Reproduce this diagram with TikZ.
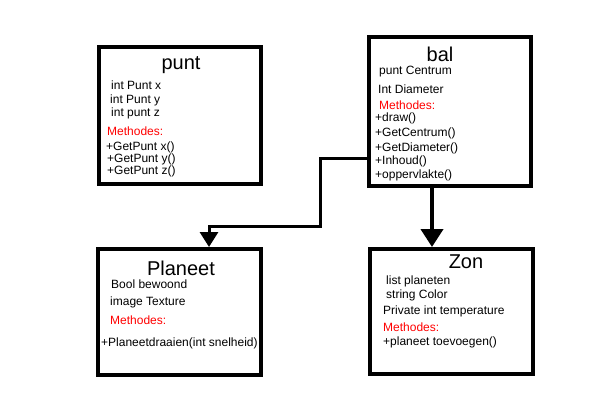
\documentclass[tikz,border=0pt]{standalone}
\usepackage{fontspec}
\setmainfont{Liberation Sans}
\usetikzlibrary{arrows.meta}
\definecolor{methred}{RGB}{255,0,0}
\begin{document}
\begin{tikzpicture}[x=1pt,y=-1pt,
  box/.style={draw=black,line width=4pt,fill=white,inner sep=0pt},
  ttl/.style={font=\fontsize{20}{22}\selectfont,inner sep=0pt},
  txt/.style={font=\fontsize{12}{13}\selectfont,anchor=west,inner sep=0pt,text height=8.7pt,text depth=2.4pt},
  meth/.style={txt,text=methred},
  conn/.style={line width=3pt,-{Triangle[length=15pt,width=18pt]}},
  connb/.style={line width=4pt,-{Triangle[length=18pt,width=22pt]}}]
\useasboundingbox[fill=white] (0,0) rectangle (600,400);
% boxes
\node[box,minimum width=162pt,minimum height=137pt] (punt) at (180,115.5) {};
\node[box,minimum width=162pt,minimum height=149pt] (bal) at (450,111.5) {};
\node[box,minimum width=163pt,minimum height=126pt] (planeet) at (179.5,312) {};
\node[box,minimum width=163pt,minimum height=125pt] (zon) at (451.5,311.5) {};
% punt
\node[ttl] (puntT) at (181,65) {punt};
\node[txt] (p1) at (111,86) {int Punt x};
\node[txt] (p2) at (110,100) {int Punt y};
\node[txt] (p3) at (111,113) {int punt z};
\node[meth] (p4) at (107,132) {Methodes:};
\node[txt] (p5) at (106,147) {+GetPunt x()};
\node[txt] (p6) at (107,159) {+GetPunt y()};
\node[txt] (p7) at (107,171) {+GetPunt z()};
% bal
\node[ttl] (balT) at (440,54) {bal};
\node[txt] (b1) at (379,71) {punt Centrum};
\node[txt] (b2) at (378,90) {Int Diameter};
\node[meth] (b3) at (379,106.5) {Methodes:};
\node[txt] (b4) at (375,118.5) {+draw()};
\node[txt] (b5) at (375,133) {+GetCentrum()};
\node[txt] (b6) at (375,148) {+GetDiameter()};
\node[txt] (b7) at (375,161) {+Inhoud()};
\node[txt] (b8) at (375,175) {+oppervlakte()};
% planeet
\node[ttl] (plT) at (181,268) {Planeet};
\node[txt] (l1) at (111,285) {Bool bewoond};
\node[txt] (l2) at (110,302) {image Texture};
\node[meth] (l3) at (110,321) {Methodes:};
\node[txt] (l4) at (101,343) {+Planeetdraaien(int snelheid)};
% zon
\node[ttl] (zT) at (466,262) {Zon};
\node[txt] (z1) at (386,281) {list planeten};
\node[txt] (z2) at (386,295) {string Color};
\node[txt] (z3) at (383,311) {Private int temperature};
\node[meth] (z4) at (383,328) {Methodes:};
\node[txt] (z5) at (383,342) {+planeet toevoegen()};
% connectors
\coordinate (c1) at (320,158);
\coordinate (c2) at (320,226);
\coordinate (c3) at (209,226);
\coordinate (c4) at (432,0);
\draw[conn] (bal.west |- c1) -- (c1) -- (c2) -- (c3) -- (planeet.north -| c3);
\draw[connb] (bal.south -| c4) -- (zon.north -| c4);
\end{tikzpicture}
\end{document}
